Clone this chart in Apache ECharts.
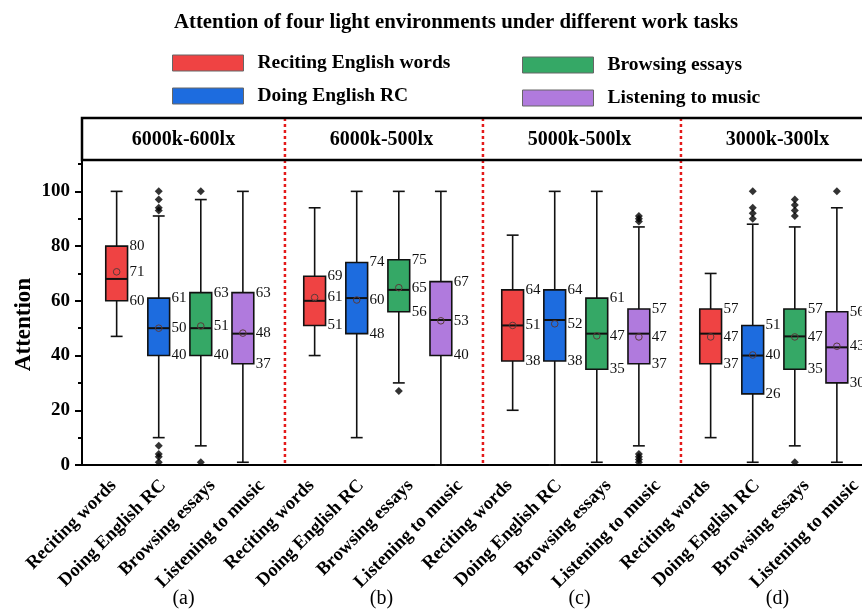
<!DOCTYPE html>
<html>
<head>
<meta charset="utf-8">
<script src="https://cdn.jsdelivr.net/npm/echarts@6/dist/echarts.min.js"></script>
<style>html,body{margin:0;padding:0;background:#fff}#main{width:862px;height:612px}</style>
</head>
<body>
<div id="main"></div>
<script>
// ---------------- data ----------------
const titleText = 'Attention of four light environments under different work tasks';
const panels = ['6000k-600lx', '6000k-500lx', '5000k-500lx', '3000k-300lx'];
const panelTags = ['(a)', '(b)', '(c)', '(d)'];
const tasks = ['Reciting words', 'Doing English RC', 'Browsing essays', 'Listening to music'];
const legendNames = ['Reciting English words', 'Doing English RC', 'Browsing essays', 'Listening to music'];
const yTicks = [0, 20, 40, 60, 80, 100];
const yMinorTicks = [10, 30, 50, 70, 90, 110];

// [lower whisker, Q1, median, Q3, upper whisker] per panel (a..d)
const recitingBox = [[47, 60, 68, 80, 100], [40, 51, 60, 69, 94], [20, 38, 51, 64, 84], [10, 37, 48, 57, 70]];
const doingBox    = [[10, 40, 50, 61, 91],  [10, 48, 61, 74, 100], [0, 38, 53, 64, 100], [1, 26, 40, 51, 88]];
const browsingBox = [[7, 40, 50, 63, 97],   [30, 56, 64, 75, 100], [1, 35, 48, 61, 100], [7, 35, 47, 57, 87]];
const listeningBox= [[1, 37, 48, 63, 100],  [0, 40, 53, 67, 100],  [7, 37, 48, 57, 87],  [1, 30, 43, 56, 94]];

// means per panel
const recitingMean  = [70.6, 61.2, 51.0, 46.8];
const doingMean     = [50.0, 60.3, 51.6, 40.2];
const browsingMean  = [50.8, 64.8, 47.2, 46.8];
const listeningMean = [48.2, 52.7, 46.8, 43.4];

// outliers per panel
const recitingOut  = [[], [], [], []];
const doingOut     = [[100, 97, 94, 93, 7, 4, 3, 1], [], [], [100, 94, 92, 90]];
const browsingOut  = [[100, 1], [27], [], [97, 95, 93, 91, 1]];
const listeningOut = [[], [], [91, 90, 89, 4, 3, 2, 1], [100]];

const colors = ['#EF4343', '#1D6CDF', '#35A866', '#B07ADD'];
// -------------------------------------

const boxes = [recitingBox, doingBox, browsingBox, listeningBox];
const means = [recitingMean, doingMean, browsingMean, listeningMean];
const outs = [recitingOut, doingOut, browsingOut, listeningOut];

const SERIF = '"Liberation Serif","Times New Roman",serif';
const PANEL_W = 4, BOX_OFF = 0.70, BOX_STEP = 0.85, BOX_W = 0.44, CAP_W = 0.24;
const boxX = (p, t) => PANEL_W * p + BOX_OFF + BOX_STEP * t;

function makeBoxRender(color) {
  return function (params, api) {
    const x = api.value(0);
    const lo = api.value(1), q1 = api.value(2), md = api.value(3), q3 = api.value(4), hi = api.value(5), mn = api.value(6);
    const bw = api.size([BOX_W, 0])[0];
    const cw = api.size([CAP_W, 0])[0];
    const P = v => api.coord([x, v]);
    const pLo = P(lo), pQ1 = P(q1), pMd = P(md), pQ3 = P(q3), pHi = P(hi), pMn = P(mn);
    const cx = pLo[0];
    const ls = { stroke: '#111', lineWidth: 1.6 };
    const lblX = cx + bw / 2 + 2;
    const lblFont = '15px ' + SERIF;
    return {
      type: 'group',
      children: [
        { type: 'line', shape: { x1: cx, y1: pHi[1], x2: cx, y2: pQ3[1] }, style: ls },
        { type: 'line', shape: { x1: cx, y1: pQ1[1], x2: cx, y2: pLo[1] }, style: ls },
        { type: 'line', shape: { x1: cx - cw / 2, y1: pHi[1], x2: cx + cw / 2, y2: pHi[1] }, style: ls },
        { type: 'line', shape: { x1: cx - cw / 2, y1: pLo[1], x2: cx + cw / 2, y2: pLo[1] }, style: ls },
        { type: 'rect', shape: { x: cx - bw / 2, y: pQ3[1], width: bw, height: pQ1[1] - pQ3[1] },
          style: { fill: color, stroke: '#111', lineWidth: 1.6 } },
        { type: 'line', shape: { x1: cx - bw / 2, y1: pMd[1], x2: cx + bw / 2, y2: pMd[1] }, style: { stroke: '#111', lineWidth: 2 } },
        { type: 'circle', shape: { cx: cx, cy: pMn[1], r: 3.3 }, style: { fill: 'none', stroke: '#5a3a3a', lineWidth: 1 } },
        { type: 'text', style: { text: String(q3), x: lblX, y: pQ3[1], font: lblFont, fill: '#111', align: 'left', verticalAlign: 'middle' } },
        { type: 'text', style: { text: String(Math.round(mn)), x: lblX, y: pMn[1], font: lblFont, fill: '#111', align: 'left', verticalAlign: 'middle' } },
        { type: 'text', style: { text: String(q1), x: lblX, y: pQ1[1], font: lblFont, fill: '#111', align: 'left', verticalAlign: 'middle' } }
      ]
    };
  };
}

function renderDecor(params, api) {
  const p = api.value(0);
  const cs = params.coordSys;
  const cxp = api.coord([PANEL_W * p + 2.05, 0])[0];
  const children = [
    { type: 'text', style: { text: panels[p], x: cxp, y: cs.y - 24, font: 'bold 20px ' + SERIF, fill: '#000', align: 'center', verticalAlign: 'middle' } },
    { type: 'text', style: { text: panelTags[p], x: cxp, y: cs.y + cs.height + 134, font: '20px ' + SERIF, fill: '#000', align: 'center', verticalAlign: 'middle' } }
  ];
  if (p > 0) {
    const dx = api.coord([PANEL_W * p + 0.1, 0])[0];
    children.push({ type: 'line', shape: { x1: dx, y1: cs.y - 46, x2: dx, y2: cs.y + cs.height },
      style: { stroke: '#E41A1A', lineWidth: 2.5, lineDash: [3, 3] } });
  } else {
    children.push({ type: 'line', shape: { x1: cs.x, y1: cs.y - 5, x2: cs.x, y2: cs.y + 1 }, style: { stroke: '#000', lineWidth: 2 } });
  }
  return { type: 'group', children };
}

const series = [];
tasks.forEach((t, ti) => {
  series.push({
    name: legendNames[ti],
    type: 'custom',
    xAxisIndex: 0, yAxisIndex: 0,
    itemStyle: { color: colors[ti] },
    renderItem: makeBoxRender(colors[ti]),
    encode: { x: 0, y: [1, 2, 3, 4, 5, 6] },
    data: panels.map((_, p) => [boxX(p, ti)].concat(boxes[ti][p], [means[ti][p]])),
    z: 3
  });
});
tasks.forEach((t, ti) => {
  const d = [];
  panels.forEach((_, p) => outs[ti][p].forEach(v => d.push([boxX(p, ti), v])));
  series.push({
    name: legendNames[ti] + ' outliers',
    type: 'scatter', xAxisIndex: 0, yAxisIndex: 0,
    symbol: 'diamond', symbolSize: 8,
    itemStyle: { color: '#000' },
    data: d, z: 4, silent: true
  });
});
series.push({
  name: 'decor', type: 'custom', xAxisIndex: 0, yAxisIndex: 0,
  renderItem: renderDecor, silent: true,
  data: panels.map((_, p) => [p]), z: 5
});

const chart = echarts.init(document.getElementById('main'), null, { renderer: 'canvas' });
const legendCommon = {
  orient: 'vertical', icon: 'rect', itemWidth: 71, itemHeight: 16, itemGap: 13, padding: 0,
  itemStyle: { borderColor: '#666', borderWidth: 1 },
  textStyle: { fontFamily: SERIF, fontWeight: 'bold', fontSize: 19.5, color: '#000', padding: [0, 0, 0, 9] }
};
chart.setOption({
  animation: false,
  backgroundColor: '#fff',
  title: {
    text: titleText, left: 169, top: 7,
    textStyle: { fontFamily: SERIF, fontWeight: 'bold', fontSize: 20.8, color: '#000' }
  },
  legend: [
    Object.assign({ left: 172, top: 53, data: [legendNames[0], legendNames[1]] }, legendCommon),
    Object.assign({ left: 522, top: 55, data: [legendNames[2], legendNames[3]] }, legendCommon)
  ],
  graphic: [
    { type: 'rect', shape: { x: 82, y: 118, width: 820, height: 42 }, style: { fill: 'none', stroke: '#000', lineWidth: 2.5 }, z: 10 }
  ],
  grid: { left: 82, right: -12, top: 164, bottom: 147, containLabel: false, outerBoundsMode: 'none' },
  xAxis: [
    { type: 'value', min: 0, max: 16, show: false, position: 'bottom' },
    { type: 'category', position: 'bottom', data: panels.flatMap(() => tasks), boundaryGap: true,
      axisLine: { lineStyle: { color: '#000', width: 2 } },
      axisTick: { alignWithLabel: true, length: 6, lineStyle: { color: '#000', width: 2 } },
      axisLabel: { rotate: 45, interval: 0, margin: 11, verticalAlign: 'top', color: '#000', fontFamily: SERIF, fontWeight: 'bold', fontSize: 18.5 },
      splitLine: { show: false } }
  ],
  yAxis: [
    { type: 'value', min: 0, max: 110, position: 'left',
      name: 'Attention', nameLocation: 'middle', nameGap: 46, nameRotate: 90, nameMoveOverlap: false,
      nameTextStyle: { fontFamily: SERIF, fontWeight: 'bold', fontSize: 23, color: '#000', padding: [0, 20, 0, 0] },
      axisLine: { show: true, lineStyle: { color: '#000', width: 2 } },
      axisTick: { show: true, length: 7, customValues: yTicks, lineStyle: { color: '#000', width: 2 } },
      axisLabel: { customValues: yTicks, color: '#000', fontFamily: SERIF, fontWeight: 'bold', fontSize: 19, margin: 12 },
      splitLine: { show: false } },
    { type: 'value', min: 0, max: 110, position: 'left', offset: 0,
      axisLine: { show: false },
      axisTick: { show: true, length: 4, customValues: yMinorTicks, lineStyle: { color: '#000', width: 2 } },
      axisLabel: { show: false }, splitLine: { show: false } }
  ],
  series: series
});
</script>
</body>
</html>
